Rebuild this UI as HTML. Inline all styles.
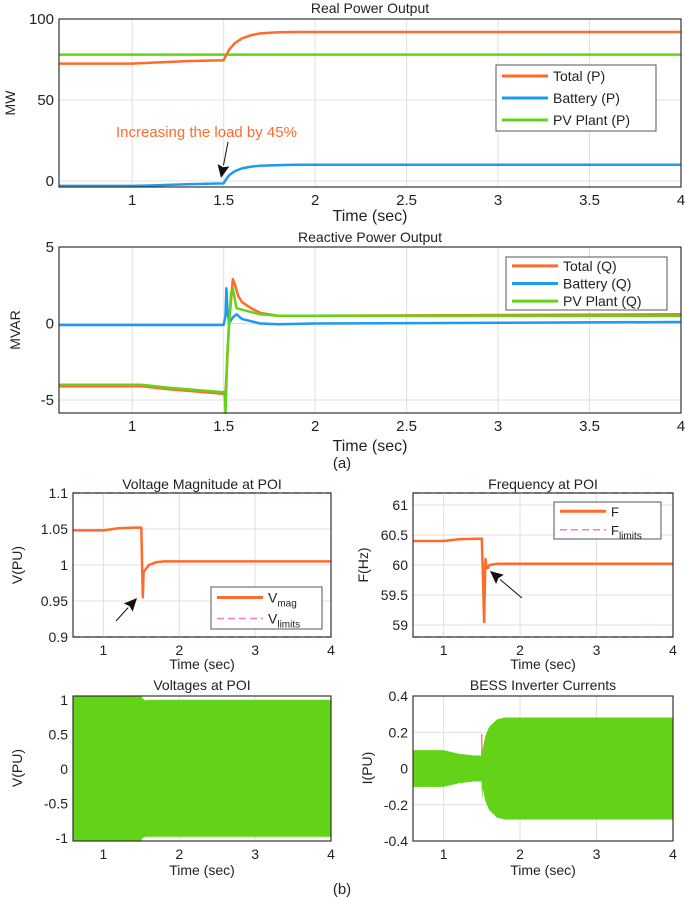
<!DOCTYPE html>
<html><head><meta charset="utf-8"><style>
html,body{margin:0;padding:0;background:#fff;}
svg{display:block;font-family:"Liberation Sans",Arial,sans-serif;}
</style></head><body>
<svg id="fig" width="685" height="898" viewBox="0 0 685 898" xmlns="http://www.w3.org/2000/svg"></svg>
<script>
// ---- data ----
const realT_total=[0.6,1.0,1.1,1.3,1.5,1.51,1.53,1.56,1.6,1.65,1.7,1.8,1.9,2,4];
const realP_total=[72.5,72.5,73,74,74.5,77,81,85,88,90,91.1,91.8,92,92,92];
const realT_batt=[0.6,1.0,1.1,1.3,1.5,1.51,1.53,1.56,1.6,1.65,1.7,1.8,1.9,2,4];
const realP_batt=[-3,-3,-2.8,-2,-1.5,0.5,3.5,6,7.8,8.9,9.4,9.8,10,10,10];
const realT_pv=[0.6,4];
const realP_pv=[78,78];
const realTicksY=[0,50,100];
const timeTicksA=[1,1.5,2,2.5,3,3.5,4];
const timeTicksB=[1,2,3,4];

const reacT_total=[0.6,1.05,1.2,1.4,1.5,1.51,1.53,1.55,1.56,1.58,1.6,1.65,1.7,1.8,2,4];
const reacQ_total=[-4.1,-4.1,-4.3,-4.5,-4.6,-4.6,0,2.9,2.6,1.8,1.4,1.0,0.7,0.5,0.5,0.6];
const reacT_batt=[0.6,1.5,1.51,1.515,1.52,1.53,1.55,1.57,1.6,1.7,1.8,2,4];
const reacQ_batt=[-0.1,-0.1,0.5,2.3,1.0,0.0,0.4,0.6,0.3,0.0,-0.05,0,0.1];
const reacT_pv=[0.6,1.05,1.2,1.4,1.5,1.505,1.51,1.52,1.54,1.55,1.57,1.6,1.7,1.8,2,4];
const reacQ_pv=[-4.0,-4.0,-4.2,-4.4,-4.5,-4.5,-5.85,-2,2,2.3,1.0,0.9,0.6,0.5,0.5,0.5];
const reacTicksY=[-5,0,5];

const vmagT=[0.6,1.0,1.2,1.4,1.5,1.51,1.52,1.53,1.55,1.6,1.7,1.8,2,4];
const vmagV=[1.048,1.048,1.051,1.052,1.052,1.0,0.955,0.99,0.993,1.0,1.004,1.005,1.005,1.005];
const vLimits=[0.9,1.1];
const vTicksY=[0.9,0.95,1,1.05,1.1];
const vTickLabels=["0.9","0.95","1","1.05","1.1"];

const freqT=[0.6,1,1.2,1.5,1.51,1.52,1.53,1.545,1.55,1.56,1.58,1.6,1.7,2,4];
const freqF=[60.4,60.4,60.43,60.44,60.0,59.5,59.05,60.0,60.1,59.95,59.95,60.0,60.02,60.02,60.02];
const fLimits=[58.8,61.2];
const fTicksY=[59,59.5,60,60.5,61];
const fTickLabels=["59","59.5","60","60.5","61"];

const vabcT=[0.6,1.5,1.51,1.55,1.6,4];
const vabcUp=[1.06,1.06,1.03,0.99,1.0,1.0];
const vabcLo=[-1.045,-1.045,-1.0,-0.98,-0.98,-0.98];
const vabcTicksY=[-1,-0.5,0,0.5,1];
const vabcTickLabels=["-1","-0.5","0","0.5","1"];

const iT=[0.6,0.9,1.0,1.2,1.4,1.5,1.505,1.51,1.55,1.6,1.7,1.8,2,4];
const iUp=[0.1,0.1,0.1,0.08,0.07,0.07,0.07,0.1,0.18,0.23,0.27,0.28,0.28,0.28];
const iLo=[-0.1,-0.1,-0.1,-0.08,-0.07,-0.07,-0.16,-0.1,-0.18,-0.23,-0.27,-0.28,-0.28,-0.28];
const iTicksY=[-0.4,-0.2,0,0.2,0.4];
const iTickLabels=["-0.4","-0.2","0","0.2","0.4"];

// ---- helpers ----
const NS="http://www.w3.org/2000/svg";
const svg=document.getElementById('fig');
const ORANGE="#ff6b2c",BLUE="#1e9bf0",GREEN="#63d317",PINK="#f27ad0";
function mk(tag,attrs,parent){const e=document.createElementNS(NS,tag);for(const k in attrs)e.setAttribute(k,attrs[k]);(parent||svg).appendChild(e);return e;}
function txt(x,y,s,size,anchor,parent,fill){const t=mk('text',{x:x,y:y,'font-size':size,'text-anchor':anchor||'middle',fill:fill||'#222'},parent);t.textContent=s;return t;}
function axes(name,x0,x1,y0,y1,xmin,xmax,ymin,ymax){
  const g=mk('g',{});
  
  
  const sx=v=>x0+(v-xmin)/(xmax-xmin)*(x1-x0);
  const sy=v=>y1-(v-ymin)/(ymax-ymin)*(y1-y0);
  return {g,sx,sy,x0,x1,y0,y1};
}
function grid(a,xt,yt){
  xt.forEach(v=>mk('line',{x1:a.sx(v),x2:a.sx(v),y1:a.y0,y2:a.y1,stroke:'#e0e0e0','stroke-width':1},a.g));
  yt.forEach(v=>mk('line',{x1:a.x0,x2:a.x1,y1:a.sy(v),y2:a.sy(v),stroke:'#e0e0e0','stroke-width':1},a.g));
}
function frame(a,xt,yt,ylabels,fs){
  mk('rect',{x:a.x0,y:a.y0,width:a.x1-a.x0,height:a.y1-a.y0,fill:'none',stroke:'#333','stroke-width':1.2},a.g);
  xt.forEach(v=>{const t=txt(a.sx(v),a.y1+18,String(v),fs,'middle',a.g);});
  yt.forEach((v,i)=>{const t=txt(a.x0-5,a.sy(v)+5,ylabels?ylabels[i]:String(v),fs,'end',a.g);});
}
function line(a,T,V,color,w,name,dash){
  const d=T.map((t,i)=>(i?'L':'M')+a.sx(t).toFixed(1)+','+a.sy(V[i]).toFixed(1)).join(' ');
  const p=mk('path',{d:d,fill:'none',stroke:color,'stroke-width':w,'stroke-linejoin':'round'},a.g);
  if(dash)p.setAttribute('stroke-dasharray',dash);
  
  
  return p;
}
function band(a,T,U,L,color,name){
  let d=T.map((t,i)=>(i?'L':'M')+a.sx(t).toFixed(1)+','+a.sy(U[i]).toFixed(1)).join(' ');
  for(let i=T.length-1;i>=0;i--)d+=' L'+a.sx(T[i]).toFixed(1)+','+a.sy(L[i]).toFixed(1);
  const p=mk('path',{d:d+' Z',fill:color,stroke:color,'stroke-width':0.5},a.g);
  
  
}
function legend(a,x,y,w,h,items,fs,name){
  const g=mk('g',{},a.g);
  
  
  mk('rect',{x:x,y:y,width:w,height:h,fill:'#fff',stroke:'#555','stroke-width':1},g);
  const step=h/items.length;
  items.forEach((it,i)=>{
    const cy=y+step*(i+0.5);
    const l=mk('line',{x1:x+6,x2:x+52,y1:cy,y2:cy,stroke:it.c,'stroke-width':it.dash?1.5:3},g);
    if(it.dash)l.setAttribute('stroke-dasharray','7,4');
    const t=mk('text',{x:x+57,y:cy+5,'font-size':fs,fill:'#222'},g);
    t.innerHTML=it.t;
    
    
  });
}
function arrow(x1,y1,x2,y2,name){
  const g=mk('g',{});
  
  
  const ang=Math.atan2(y2-y1,x2-x1),L=13,W=6;
  const bx=x2-L*Math.cos(ang),by=y2-L*Math.sin(ang);
  mk('line',{x1:x1,y1:y1,x2:bx,y2:by,stroke:'#111','stroke-width':1},g);
  const px=-Math.sin(ang)*W,py=Math.cos(ang)*W;
  mk('polygon',{points:`${x2},${y2} ${bx+px},${by+py} ${bx+2*Math.cos(ang)},${by+2*Math.sin(ang)} ${bx-px},${by-py}`,fill:'#111'},g);
}
function title(x,y,s,fs,name){const t=txt(x,y,s,fs,'middle');}
function ylab(x,y,s,fs,name){const t=txt(x,y,s,fs,'middle');t.setAttribute('transform',`rotate(-90 ${x} ${y})`);}

// ---- Real power ----
let A=axes('real-power-chart',59,681,19,187,0.6,4,-3.7,100);
grid(A,timeTicksA,realTicksY);
line(A,realT_pv,realP_pv,GREEN,2.5,'pv-plant-p-line');
line(A,realT_total,realP_total,ORANGE,2.5,'total-p-line');
line(A,realT_batt,realP_batt,BLUE,2.5,'battery-p-line');
frame(A,timeTicksA,realTicksY,null,15);
legend(A,496,65,160,66,[{t:'Total (P)',c:ORANGE},{t:'Battery (P)',c:BLUE},{t:'PV Plant (P)',c:GREEN}],14,'real-power-legend');
title(370,13,'Real Power Output',14,'real-power-title');
ylab(15,103,'MW',14,'real-y-axis-title');
title(370,221,'Time (sec)',16,'real-x-axis-title');
{const t=txt(116,137,'Increasing the load by 45%',15,'start',null,ORANGE);}
arrow(228,142,221,178,'load-arrow');

// ---- Reactive power ----
A=axes('reactive-power-chart',59,681,247,413,0.6,4,-5.85,5);
grid(A,timeTicksA,reacTicksY);
line(A,reacT_total,reacQ_total,ORANGE,2.5,'total-q-line');
line(A,reacT_batt,reacQ_batt,BLUE,2.5,'battery-q-line');
line(A,reacT_pv,reacQ_pv,GREEN,2.5,'pv-plant-q-line');
frame(A,timeTicksA,reacTicksY,null,15);
legend(A,506,257,161,53,[{t:'Total (Q)',c:ORANGE},{t:'Battery (Q)',c:BLUE},{t:'PV Plant (Q)',c:GREEN}],14,'reactive-power-legend');
title(370,242,'Reactive Power Output',14,'reactive-power-title');
ylab(20,330,'MVAR',14,'reactive-y-axis-title');
title(370,451,'Time (sec)',16,'reactive-x-axis-title');
title(342,468,'(a)',15,'panel-a-label');

// ---- Voltage magnitude ----
A=axes('voltage-magnitude-chart',73,331,493,637,0.6,4,0.9,1.1);
grid(A,timeTicksB,vTicksY);
vLimits.forEach(v=>line(A,[0.6,4],[v,v],PINK,1.5,'v-limit-line','7,4'));
line(A,vmagT,vmagV,ORANGE,2.5,'vmag-line');
frame(A,timeTicksB,vTicksY,vTickLabels,14);
legend(A,211,587,111,42,[{t:'V<tspan font-size="10" dy="4">mag</tspan>',c:ORANGE},{t:'V<tspan font-size="10" dy="4">limits</tspan>',c:PINK,dash:1}],14,'voltage-legend');
title(202,489,'Voltage Magnitude at POI',14,'voltage-magnitude-title');
ylab(22,565,'V(PU)',14,'voltage-y-axis-title');
arrow(116,621,137,598,'voltage-dip-arrow');

// ---- Frequency ----
A=axes('frequency-chart',413,673,493,637,0.6,4,58.8,61.2);
grid(A,timeTicksB,fTicksY);
fLimits.forEach(v=>line(A,[0.6,4],[v,v],PINK,1.5,'f-limit-line','7,4'));
line(A,freqT,freqF,ORANGE,2.5,'frequency-line');
frame(A,timeTicksB,fTicksY,fTickLabels,14);
legend(A,554,502,107,37,[{t:'F',c:ORANGE},{t:'F<tspan font-size="10" dy="4">limits</tspan>',c:PINK,dash:1}],13,'frequency-legend');
title(543,489,'Frequency at POI',14,'frequency-title');
ylab(368,565,'F(Hz)',14,'frequency-y-axis-title');
arrow(522,598,490,571,'frequency-arrow');
title(202,669,'Time (sec)',14,'voltage-x-axis-title');
title(543,669,'Time (sec)',14,'frequency-x-axis-title');

// ---- Voltages at POI ----
A=axes('voltages-poi-chart',73,331,696,841,0.6,4,-1.045,1.06);
grid(A,timeTicksB,vabcTicksY);
band(A,vabcT,vabcUp,vabcLo,GREEN,'voltage-waveform-band');
frame(A,timeTicksB,vabcTicksY,vabcTickLabels,14);
title(202,690,'Voltages at POI',14,'voltages-poi-title');
ylab(22,768,'V(PU)',14,'voltages-y-axis-title');
title(202,875,'Time (sec)',14,'voltages-x-axis-title');

// ---- Currents ----
A=axes('bess-currents-chart',413,673,696,841,0.6,4,-0.4,0.4);
grid(A,timeTicksB,iTicksY);
line(A,[1.5,1.5],[0.07,0.19],ORANGE,1.2,'current-spike');
band(A,iT,iUp,iLo,GREEN,'current-waveform-band');
frame(A,timeTicksB,iTicksY,iTickLabels,14);
title(543,690,'BESS Inverter Currents',14,'currents-title');
ylab(372,768,'I(PU)',14,'currents-y-axis-title');
title(543,875,'Time (sec)',14,'currents-x-axis-title');
title(342,894,'(b)',15,'panel-b-label');
</script>
</body></html>
